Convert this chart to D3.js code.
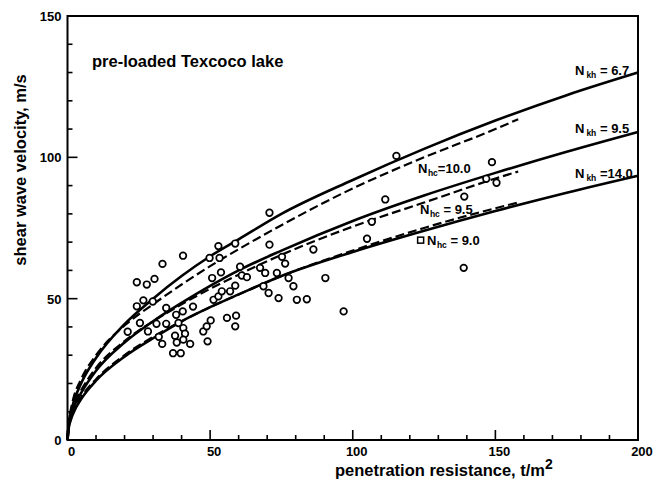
<!DOCTYPE html>
<html><head><meta charset="utf-8">
<script src="https://cdn.jsdelivr.net/npm/d3@7"></script>
<style>body{margin:0;background:#fff}svg{display:block}text{font-family:"Liberation Sans",Arial,sans-serif;font-weight:bold;fill:#000}</style>
</head><body>
<svg id="chart" width="656" height="487"></svg>
<script>
// ---- data ----
const title = "pre-loaded Texcoco lake";
const xTitle = "penetration resistance, t/m";
const yTitle = "shear wave velocity, m/s";
const xTickLabels = [0, 50, 100, 150, 200];
const yTickLabels = [0, 50, 100, 150];

// measured points (penetration resistance, shear wave velocity)
const pointsX = [21.1,24.3,27.8,30.5,33.3,40.5,24.3,26.6,29.9,25.4,28.2,31.2,34.6,34.6,32.0,33.2,38.1,40.4,44.0,38.9,40.6,37.7,41.2,38.3,40.6,43.0,37.0,39.7,47.6,48.8,50.2,49.1,55.9,59.1,58.8,51.2,52.9,54.1,57.0,58.8,49.8,52.9,53.3,50.7,53.8,58.8,60.5,61.1,62.9,70.8,70.8,67.5,69.3,68.7,70.5,73.4,75.2,76.3,77.5,79.2,74.0,80.4,83.9,86.2,90.4,96.8,105.0,106.7,111.4,115.3,139.1,148.8,146.8,150.4,138.9];
const pointsY = [38.3,55.8,55.0,57.0,62.3,65.2,47.3,49.4,49.0,41.4,38.4,41.1,41.1,46.7,36.5,34.0,44.3,45.5,47.2,41.4,39.6,36.9,37.6,34.5,35.5,34.0,30.7,30.7,38.4,40.2,42.3,34.9,43.2,44.0,40.2,49.6,50.8,52.6,52.6,54.6,64.4,68.6,64.4,57.3,59.3,69.5,61.3,58.2,57.6,80.4,69.1,60.9,59.1,54.4,52.0,59.1,64.8,62.4,57.3,54.4,50.2,49.6,49.8,67.4,57.3,45.5,71.2,77.2,85.1,100.5,86.1,98.3,92.4,91.0,60.9];
const squareX = [123.8];
const squareY = [70.7];

// curves
const curveQ = [0,0.5,1,2,5,10,20,30,40,50,60,75,100,125,150,175,200];
const nkh67  = [0,6.5,9,13,20.5,29,41,50,58,65,71,80,92,103,113,122,130];
const nkh95  = [0,5.4,7.7,11,17,24.5,34.5,42,48.5,54.5,60,67,77.5,86.5,94.5,102,109];
const nkh140 = [0,4.7,6.6,9.4,14.8,21,29.5,36,42,47,51.5,58,66.5,74,81,87.5,93.5];
const dashQ  = [0,0.5,1,2,5,10,20,30,40,50,60,75,100,125,150,158];
const nhc100 = [0,7.5,10,14.5,22,30,40.5,48,55,61.5,67.5,76,89,100,110,113.5];
const nhc95  = [0,6,8.5,12,18,25.5,35,42,48,53.5,58.5,65.5,75.5,84,92.5,95];
const nhc90  = [0,5,7,10,15.5,21.5,30,36.5,42,47,51.5,58,67,75,82,84];

const svg = d3.select("#chart");
const x = d3.scaleLinear().domain([0,200]).range([67.5,638]);
const y = d3.scaleLinear().domain([0,150]).range([440,16]);

// frame
svg.append("rect").attr("x",x(0)).attr("y",y(150)).attr("width",x(200)-x(0)).attr("height",y(0)-y(150))
  .attr("fill","none").attr("stroke","#000").attr("stroke-width",2);

// ticks (inward)
const xt = d3.range(0,201,10), yt = d3.range(0,151,10);
svg.append("g").selectAll("line").data(xt).join("line")
  .attr("x1",d=>x(d)).attr("x2",d=>x(d)).attr("y1",y(0))
  .attr("y2",d=>y(0)-(d%50===0?10:5)).attr("stroke","#000").attr("stroke-width",1.6);
svg.append("g").selectAll("line").data(yt).join("line")
  .attr("y1",d=>y(d)).attr("y2",d=>y(d)).attr("x1",x(0))
  .attr("x2",d=>x(0)+(d%50===0?10:5)).attr("stroke","#000").attr("stroke-width",1.6);

// tick labels
svg.append("g").selectAll("text").data(xTickLabels).join("text")
  .attr("x",d=>x(d)+4).attr("y",456).attr("text-anchor","middle").attr("font-size",13).text(d=>d);
svg.append("g").selectAll("text").data(yTickLabels).join("text")
  .attr("x",x(0)-6).attr("y",d=>y(d)+5).attr("text-anchor","end").attr("font-size",13).text(d=>d);

// axis titles
const xt2 = svg.append("text").attr("x",335).attr("y",476).attr("font-size",16.5);
xt2.append("tspan").text(xTitle);
xt2.append("tspan").attr("dy",-7).attr("font-size",14).text("2");
svg.append("text").attr("transform","translate(26,170) rotate(-90)").attr("text-anchor","middle")
  .attr("font-size",16.5).text(yTitle);

// title
svg.append("text").attr("x",92).attr("y",67).attr("font-size",16.5).text(title);

// curves
const solid = d3.line().x(d=>x(d[0])).y(d=>y(d[1])).curve(d3.curveMonotoneX);
[nkh67,nkh95,nkh140].forEach(s=>{
  svg.append("path").attr("d",solid(curveQ.map((q,i)=>[q,s[i]])))
    .attr("fill","none").attr("stroke","#000").attr("stroke-width",2.6);
});
[nhc100,nhc95,nhc90].forEach(s=>{
  svg.append("path").attr("d",solid(dashQ.map((q,i)=>[q,s[i]])))
    .attr("fill","none").attr("stroke","#000").attr("stroke-width",2.2).attr("stroke-dasharray","9,4");
});

// points
svg.append("g").selectAll("circle").data(pointsX.map((v,i)=>[v,pointsY[i]])).join("circle")
  .attr("cx",d=>x(d[0])).attr("cy",d=>y(d[1])).attr("r",3.3)
  .attr("fill","#fff").attr("stroke","#000").attr("stroke-width",1.7);
svg.append("g").selectAll("rect").data(squareX.map((v,i)=>[v,squareY[i]])).join("rect")
  .attr("x",d=>x(d[0])-3).attr("y",d=>y(d[1])-3).attr("width",6).attr("height",6)
  .attr("fill","#fff").attr("stroke","#000").attr("stroke-width",1.5);

// curve labels
function lab(px,py,sub,val,spaced){
  const t = svg.append("text").attr("x",px).attr("y",py).attr("font-size",13);
  t.append("tspan").text("N");
  t.append("tspan").attr("font-size",8.5).attr("dx",spaced?2:0.5).attr("dy",3).text(sub);
  t.append("tspan").attr("dy",-3).attr("font-size",13).text(val);
}
lab(575,75,"kh"," = 6.7",true);
lab(575,133,"kh"," = 9.5",true);
lab(575,178,"kh"," =14.0",true);
lab(418,173,"hc","=10.0",false);
lab(420,214,"hc"," = 9.5",false);
lab(427,245,"hc"," = 9.0",false);
</script>
</body></html>
